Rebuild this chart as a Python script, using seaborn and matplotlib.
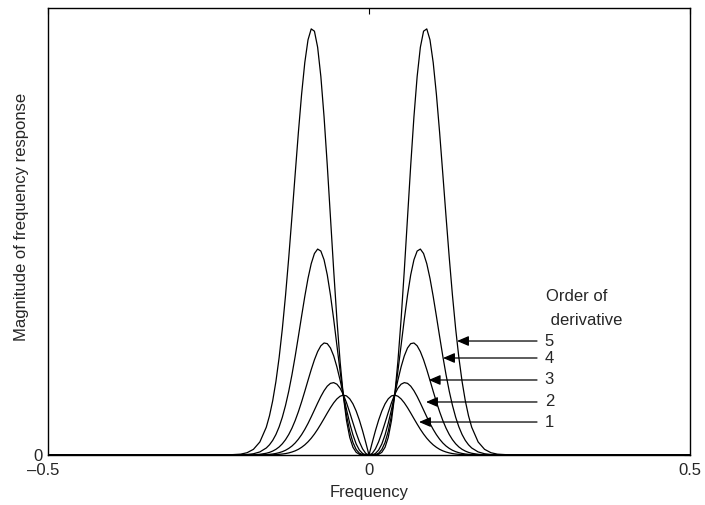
import pandas as pd
import matplotlib
matplotlib.use('Agg')
import matplotlib.pyplot as plt
import matplotlib.transforms as mtransforms
import seaborn as sns

# right half of the spectrum (the plot is symmetric about 0)
freq_pos = [0.0, 0.005, 0.01, 0.015, 0.02, 0.025, 0.03, 0.035, 0.04, 0.045,
            0.05, 0.055, 0.06, 0.065, 0.07, 0.075, 0.08, 0.085, 0.09, 0.095,
            0.1, 0.105, 0.11, 0.115, 0.12, 0.125, 0.13, 0.135, 0.14, 0.145,
            0.15, 0.155, 0.16, 0.17, 0.18, 0.19, 0.2, 0.22, 0.5]

mag_order1 = [0, .0277, .0542, .0781, .0984, .1144, .1257, .1322, .1340, .1315,
              .1255, .1167, .1059, .0939, .0814, .0692, .0575, .0469, .0375, .0295,
              .0227, .0172, .0127, .0093, .0067, .0047, .0032, .0022, .0015, .0010,
              .0006, .0004, .0002, .0001, 0, 0, 0, 0, 0]
mag_order2 = [0, .0035, .0137, .0296, .0497, .0722, .0952, .1168, .1352, .1494,
              .1584, .1619, .1603, .1540, .1438, .1309, .1162, .1007, .0853, .0706,
              .0573, .0455, .0354, .0269, .0201, .0148, .0106, .0075, .0052, .0035,
              .0023, .0015, .0010, .0004, .0001, 0, 0, 0, 0]
mag_order3 = [0, .0004, .0034, .0110, .0247, .0449, .0711, .1017, .1346, .1673,
              .1971, .2217, .2394, .2491, .2506, .2443, .2313, .2130, .1910, .1670,
              .1425, .1188, .0968, .0771, .0601, .0459, .0343, .0251, .0180, .0127,
              .0088, .0059, .0039, .0016, .0006, .0002, .0001, 0, 0]
mag_order4 = [0, .0001, .0008, .0041, .0123, .0280, .0531, .0886, .1341, .1874,
              .2453, .3036, .3576, .4031, .4367, .4562, .4607, .4507, .4280, .3951,
              .3548, .3105, .2651, .2208, .1796, .1428, .1111, .0845, .0629, .0458,
              .0327, .0229, .0157, .0069, .0028, .0011, .0004, 0, 0]
mag_order5 = [0, 0, .0002, .0015, .0061, .0173, .0394, .0768, .1327, .2087,
              .3035, .4132, .5309, .6484, .7565, .8467, .9121, .9481, .9532, .9287,
              .8780, .8068, .7215, .6283, .5335, .4418, .3572, .2822, .2178, .1644,
              .1214, .0878, .0621, .0292, .0127, .0051, .0019, .0002, 0]

orders = [1, 2, 3, 4, 5]
mags = [mag_order1, mag_order2, mag_order3, mag_order4, mag_order5]

# arrow annotations: height of each arrow and where it touches its curve
arrow_y = [0.0738, 0.1186, 0.1678, 0.2170, 0.2550]
arrow_tip = [0.0779, 0.0888, 0.0930, 0.1153, 0.1371]
arrow_tail = 0.2617

freq_full = [-f for f in reversed(freq_pos)] + freq_pos[1:]
rows = []
for n, m in zip(orders, mags):
    vals = list(reversed(m)) + m[1:]
    for f, v in zip(freq_full, vals):
        rows.append({'frequency': f, 'magnitude': v, 'order': n})
df = pd.DataFrame(rows)

sns.set_style('white')
plt.rcParams['font.family'] = ['Liberation Sans', 'DejaVu Sans']
plt.rcParams['font.size'] = 12

fig = plt.figure(figsize=(7.05, 5.05), dpi=100)
ax = fig.add_axes([0.0681, 0.0990, 0.9106, 0.8852])

sns.lineplot(data=df, x='frequency', y='magnitude', hue='order',
             palette=['black'] * 5, estimator=None, legend=False,
             linewidth=0.9, ax=ax)

ax.set_xlim(-0.5, 0.5)
ax.set_ylim(0, 1)
ax.set_xticks([-0.5, 0, 0.5])
ax.set_xticklabels(['\u20130.5', '0', '0.5'])
ax.set_yticks([0])
ax.set_yticklabels(['0'])
ax.tick_params(direction='in', top=True, right=True, length=4.5, width=0.8,
               labelsize=12, color='black')
ax.tick_params(axis='x', pad=6)
ax.tick_params(axis='y', pad=4)
for sp in ax.spines.values():
    sp.set_color('black')
    sp.set_linewidth(1.0)

# nudge the -0.5 label a bit left like the original
lab = ax.get_xticklabels()[0]
lab.set_transform(lab.get_transform() + mtransforms.ScaledTranslation(-5 / 100, 0, fig.dpi_scale_trans))

ax.set_xlabel('Frequency', fontsize=12)
ax.set_ylabel('Magnitude of frequency response', fontsize=12)
ax.xaxis.set_label_coords(0.5, -0.066)
ax.yaxis.set_label_coords(-0.03, 0.532)

for n, y, tip in zip(orders, arrow_y, arrow_tip):
    ax.annotate('', xy=(tip, y), xytext=(arrow_tail, y),
                arrowprops=dict(arrowstyle='-|>,head_length=0.7,head_width=0.3',
                                color='black', lw=0.9, mutation_scale=10,
                                shrinkA=0, shrinkB=0))
    ax.text(arrow_tail + 0.012, y, str(n), ha='left', va='center', fontsize=12)

ax.text(0.2757, 0.3535, 'Order of', ha='left', va='center', fontsize=12)
ax.text(0.2757, 0.302, ' derivative', ha='left', va='center', fontsize=12)

fig.savefig('out.png', dpi=100)
